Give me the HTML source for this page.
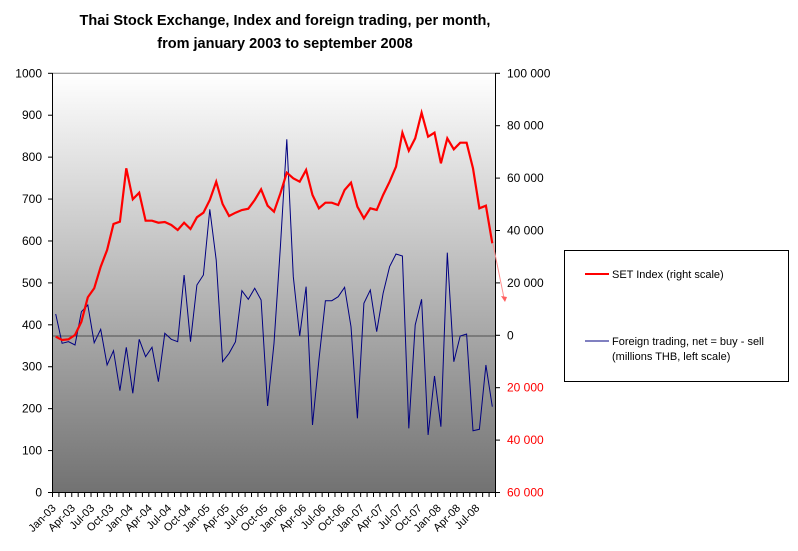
<!DOCTYPE html>
<html><head><meta charset="utf-8"><style>
body{margin:0;background:#fff;width:798px;height:546px;overflow:hidden}
svg text{font-family:"Liberation Sans",Arial,sans-serif}
</style></head><body>
<svg id="s" width="798" height="546" xmlns="http://www.w3.org/2000/svg">
<defs><linearGradient id="g" x1="0" y1="0" x2="0" y2="1"><stop offset="0" stop-color="#ffffff"/><stop offset="1" stop-color="#727272"/></linearGradient></defs>
<text x="285" y="25" font-size="14.5" font-weight="bold" text-anchor="middle">Thai Stock Exchange, Index and foreign trading, per month,</text>
<text x="285" y="48" font-size="14.5" font-weight="bold" text-anchor="middle">from january 2003 to september 2008</text>
<rect x="52.5" y="73.3" width="443" height="419" fill="url(#g)"/>
<line x1="52.5" y1="73.3" x2="495.5" y2="73.3" stroke="#808080"/>
<line x1="52.5" y1="336" x2="495.5" y2="336" stroke="#505050"/>
<line x1="52.5" y1="73" x2="52.5" y2="493" stroke="#000"/>
<line x1="495.5" y1="73" x2="495.5" y2="493" stroke="#000"/>
<line x1="52.5" y1="492.5" x2="495.5" y2="492.5" stroke="#000"/>
<g id="ax"></g>
<polyline id="blue" fill="none" stroke="#000080" stroke-width="1"/>
<polyline id="red" fill="none" stroke="#ff0000" stroke-width="2.2"/>
<line x1="493" y1="244" x2="504" y2="298" stroke="#ff9090" stroke-width="1"/>
<polygon points="501,296 507,297 505,302" fill="#ff6060"/>
<rect x="564.5" y="250.5" width="224" height="131" fill="#fff" stroke="#000"/>
<line x1="585" y1="274" x2="609" y2="274" stroke="#ff0000" stroke-width="2"/>
<text x="612" y="278" font-size="11">SET Index (right scale)</text>
<line x1="585" y1="341" x2="609" y2="341" stroke="#000080"/>
<text x="612" y="345" font-size="11">Foreign trading, net = buy - sell</text>
<text x="612" y="360" font-size="11">(millions THB, left scale)</text>
</svg>
<script>
var R=[830,840,838,825,785,712,685,620,570,492,485,325,418,398,482,482,488,486,495,510,488,507,472,458,420,365,432,468,458,450,446,420,388,437,455,400,338,355,365,330,405,445,428,428,435,390,368,440,475,445,450,405,365,320,218,272,235,158,230,218,310,235,268,248,248,325,445,437,550];
var B=[762,850,845,855,755,735,848,808,915,872,992,862,1000,838,890,862,965,820,838,845,645,845,675,645,448,600,905,880,845,692,718,685,720,1038,850,560,238,650,828,680,1095,900,722,722,710,682,800,1075,730,690,815,700,620,582,588,1105,795,718,1125,948,1100,578,905,828,822,1112,1108,915,1040];
function px(i){return 52.5+6.42*(i+0.5)}
document.getElementById('red').setAttribute('points',R.map((v,i)=>px(i).toFixed(1)+','+(60+v/3).toFixed(1)).join(' '));
document.getElementById('blue').setAttribute('points',B.map((v,i)=>px(i).toFixed(1)+','+(60+v/3).toFixed(1)).join(' '));
var h='';
for(var k=0;k<=10;k++){var y=492.5-k*41.92;h+='<line x1="48" y1="'+y+'" x2="52.5" y2="'+y+'" stroke="#000"/><text x="42" y="'+(y+4)+'" font-size="12" text-anchor="end">'+(k*100)+'</text>';}
var rl=['100 000','80 000','60 000','40 000','20 000','0','20 000','40 000','60 000'];
for(var k=0;k<9;k++){var y=73.3+k*52.4;h+='<line x1="495.5" y1="'+y+'" x2="500" y2="'+y+'" stroke="#000"/><text x="507" y="'+(y+4)+'" font-size="12" fill="'+(k>5?'#ff0000':'#000')+'">'+rl[k]+'</text>';}
for(var i=0;i<=69;i++){var x=52.5+6.42*i;h+='<line x1="'+x+'" y1="492.5" x2="'+x+'" y2="497" stroke="#000"/>';}
var m=['Jan','Apr','Jul','Oct'];
for(var i=0;i<69;i+=3){var x=px(i)-2,y=506;var lab=m[(i/3)%4]+'-0'+(3+Math.floor(i/12));h+='<text transform="translate('+x+','+y+') rotate(-45)" font-size="11" text-anchor="end" dy="4">'+lab+'</text>';}
document.getElementById('ax').innerHTML=h;
</script>
</body></html>
